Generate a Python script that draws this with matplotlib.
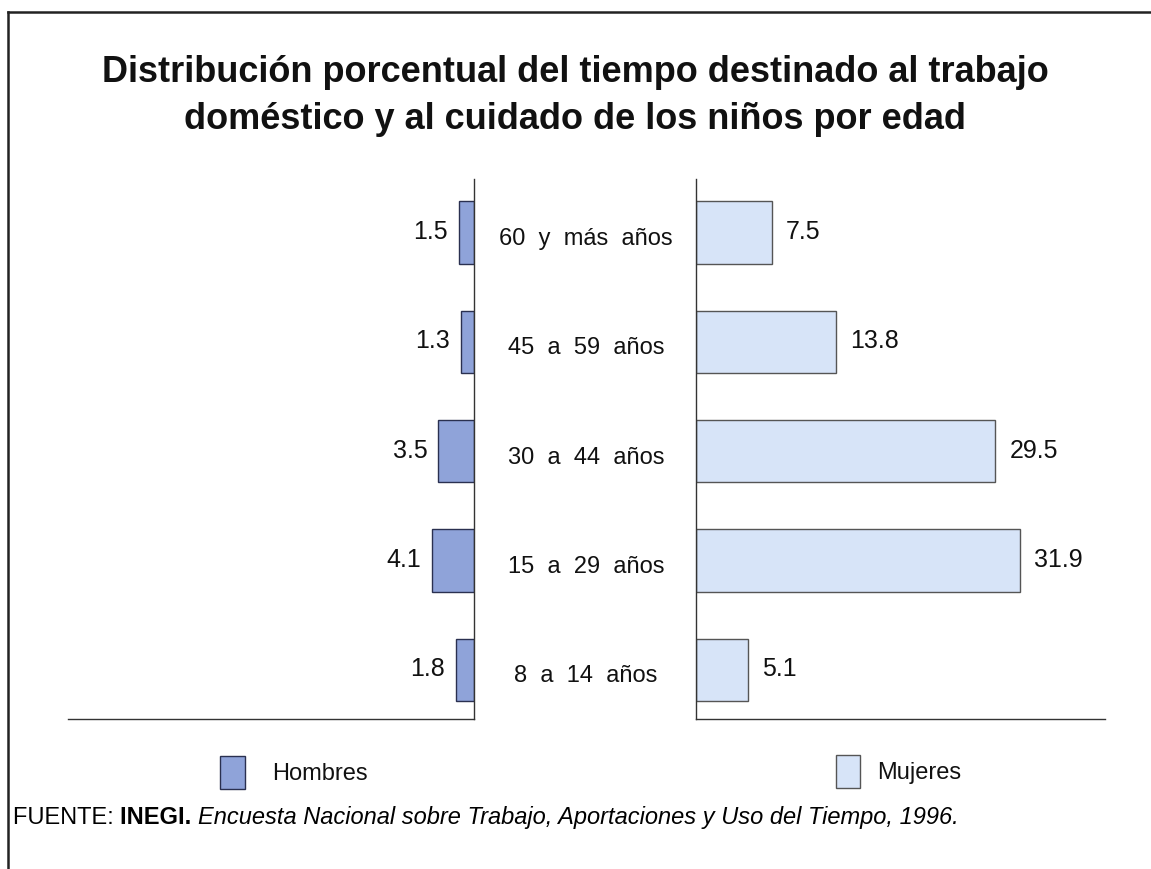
import matplotlib.pyplot as plt
import matplotlib.transforms as mtransforms
from matplotlib.patches import Rectangle
from matplotlib.lines import Line2D

plt.rcParams['font.family'] = ['Liberation Sans', 'DejaVu Sans']

# data
grupos = ['8 a 14 años', '15 a 29 años', '30 a 44 años', '45 a 59 años', '60 y más años']
hombres = [1.8, 4.1, 3.5, 1.3, 1.5]
mujeres = [5.1, 31.9, 29.5, 13.8, 7.5]

titulo = 'Distribución porcentual del tiempo destinado al trabajo\ndoméstico y al cuidado de los niños por edad'

col_h = '#8fa3d9'
col_m = '#d7e4f8'
W, H = 1151, 870

fig = plt.figure(figsize=(W / 100, H / 100), dpi=100)

def fx(px):
    return px / W

def fy(py):
    return 1 - py / H

axL = fig.add_axes([fx(68), fy(720), fx(474 - 68), (720 - 180) / H])
axR = fig.add_axes([fx(696), fy(720), fx(1105 - 696), (720 - 180) / H])

pos = list(range(len(grupos)))

axL.barh(pos, hombres, height=0.57, color=col_h, edgecolor='#2a3050', linewidth=1.0)
axR.barh(pos, mujeres, height=0.57, color=col_m, edgecolor='#555555', linewidth=1.0)

axL.set_xlim(40, 0)
axR.set_xlim(0, 40.3)
for ax in (axL, axR):
    ax.set_ylim(-0.45, 4.49)
    ax.set_xticks([])
    ax.set_yticks([])
    ax.spines['top'].set_visible(False)
    for s in ax.spines.values():
        s.set_color('#333333')
        s.set_linewidth(1.0)
axL.spines['left'].set_visible(False)
axR.spines['right'].set_visible(False)

for i, v in enumerate(hombres):
    axL.annotate(f'{v:.1f}', (v, i), xytext=(-8, 1), textcoords='offset points',
                 ha='right', va='center', fontsize=18, color='#111111')
for i, v in enumerate(mujeres):
    axR.annotate(f'{v:.1f}', (v, i), xytext=(10, 1), textcoords='offset points',
                 ha='left', va='center', fontsize=18, color='#111111')

# age labels in the middle
trans = mtransforms.blended_transform_factory(fig.transFigure, axL.transData)
off = mtransforms.offset_copy(trans, fig=fig, y=-4, units='points')
for i, g in enumerate(grupos):
    fig.text(fx(586), i, g.replace(' ', '  '), transform=off, ha='center', va='center',
             fontsize=17, color='#111111')

fig.text(0.5, fy(96), titulo, ha='center', va='center', fontsize=26, fontweight='bold',
         linespacing=1.45, color='#111111')

# legend
fig.patches.append(Rectangle((fx(220), fy(790)), fx(25), 33 / H, transform=fig.transFigure,
                             facecolor=col_h, edgecolor='#2a3050', linewidth=1.0))
fig.text(fx(272), fy(774), 'Hombres', ha='left', va='center', fontsize=17, color='#111111')
fig.patches.append(Rectangle((fx(836), fy(789)), fx(24), 33 / H, transform=fig.transFigure,
                             facecolor=col_m, edgecolor='#555555', linewidth=1.0))
fig.text(fx(877), fy(773), 'Mujeres', ha='left', va='center', fontsize=17, color='#111111')

# source
t1 = fig.text(fx(13), fy(818), 'FUENTE: ', ha='left', va='center', fontsize=17)
fig.canvas.draw()
r = fig.canvas.get_renderer()
bb = t1.get_window_extent(r)
t2 = fig.text(bb.x1 / W, fy(818), 'INEGI. ', ha='left', va='center', fontsize=17,
              fontweight='bold')
bb = t2.get_window_extent(r)
fig.text(bb.x1 / W, fy(818), 'Encuesta Nacional sobre Trabajo, Aportaciones y Uso del Tiempo, 1996.',
         ha='left', va='center', fontsize=17, style='italic')

# frame
for xs, ys in [((8, 8), (13, 870)), ((8, 1151), (13, 13))]:
    fig.lines.append(Line2D([fx(x) for x in xs], [fy(y) for y in ys], transform=fig.transFigure,
                            color='#222222', linewidth=1.8))

fig.savefig('out.png', dpi=100, facecolor='white')
